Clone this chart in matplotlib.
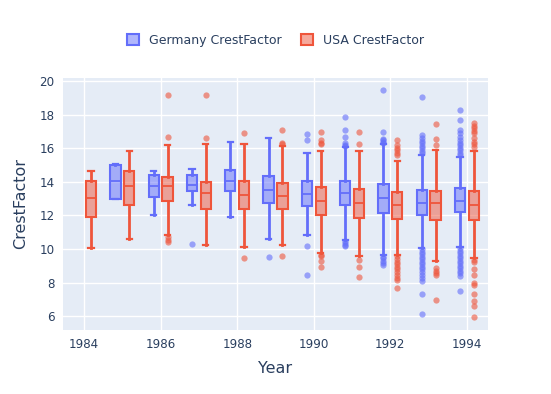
import numpy as np
import matplotlib.pyplot as plt
from matplotlib.patches import Patch
from matplotlib.colors import to_rgba

plt.rcParams['font.family'] = ['DejaVu Sans']

# Box summary values (CrestFactor per year)
ger_years = [1985, 1986, 1987, 1988, 1989, 1990, 1991, 1992, 1993, 1994]
ger_lo  = [13.0, 12.05, 12.64, 11.93, 10.62, 10.81, 10.56, 9.66, 10.06, 10.1]
ger_q1  = [13.0, 13.08, 13.48, 13.44, 12.74, 12.54, 12.6, 12.15, 12.0, 12.19]
ger_med = [14.07, 13.78, 13.84, 14.04, 13.54, 13.3, 13.34, 13.04, 12.74, 12.84]
ger_q3  = [15.0, 14.43, 14.39, 14.69, 14.35, 14.07, 14.07, 13.88, 13.54, 13.64]
ger_hi  = [15.07, 14.63, 14.77, 16.36, 16.64, 15.73, 16.06, 16.28, 15.59, 15.5]
ger_out = [
    [],
    [],
    [10.32],
    [],
    [9.52],
    [16.88, 16.5, 10.16, 8.43],
    [17.87, 17.12, 16.66, 16.3, 16.2, 16.12, 10.45, 10.35, 10.25, 10.16],
    [19.46, 16.98, 16.56, 16.48, 16.4, 16.33, 9.55, 9.45, 9.3, 9.15, 9.06],
    [19.05, 16.82, 16.6, 16.45, 16.3, 16.15, 16.0, 15.85, 15.7,
     10.0, 9.85, 9.7, 9.55, 9.4, 9.25, 9.1, 8.95, 8.8, 8.6, 8.45, 8.25, 8.1, 7.34, 6.14],
    [18.27, 17.67, 17.1, 16.9, 16.7, 16.5, 16.35, 16.2, 16.05, 15.9, 15.75, 15.6,
     10.05, 9.9, 9.75, 9.6, 9.45, 9.3, 9.15, 9.0, 8.85, 8.7, 8.55, 8.4, 7.5],
]

usa_years = [1984, 1985, 1986, 1987, 1988, 1989, 1990, 1991, 1992, 1993, 1994]
usa_lo  = [10.04, 10.62, 10.85, 10.26, 10.14, 10.24, 9.74, 9.6, 9.66, 9.26, 9.46]
usa_q1  = [11.89, 12.65, 12.84, 12.4, 12.4, 12.38, 12.05, 11.85, 11.81, 11.71, 11.75]
usa_med = [13.04, 13.73, 13.74, 13.34, 13.24, 13.18, 12.84, 12.74, 12.64, 12.74, 12.64]
usa_q3  = [14.04, 14.65, 14.29, 13.99, 14.04, 13.94, 13.68, 13.6, 13.4, 13.44, 13.44]
usa_hi  = [14.63, 15.86, 16.18, 16.26, 16.24, 16.12, 15.84, 15.84, 15.27, 15.9, 15.83]
usa_out = [
    [],
    [],
    [19.16, 16.66, 10.7, 10.55, 10.4],
    [19.2, 16.62],
    [16.94, 9.48],
    [17.08, 16.32, 16.26, 9.58],
    [16.98, 16.5, 16.35, 16.26, 9.65, 9.56, 9.26, 8.9],
    [16.98, 16.28, 9.34, 8.9, 8.33],
    [16.52, 16.18, 16.05, 15.9, 15.75, 15.63,
     9.56, 9.4, 9.25, 9.1, 8.95, 8.8, 8.6, 8.45, 8.3, 8.15, 7.7],
    [17.46, 16.56, 16.18, 8.86, 8.7, 8.55, 8.46, 6.96],
    [17.5, 17.35, 17.2, 17.05, 16.9, 16.6, 16.4, 16.25, 16.1,
     9.36, 9.2, 8.8, 8.47, 7.97, 7.85, 7.33, 6.88, 6.58, 5.92],
]

blue = '#636efa'
red = '#EF553B'
txt = '#2a3f5f'

fig = plt.figure(figsize=(5.51, 3.94), dpi=100)
ax = fig.add_axes([63 / 551, 1 - 330 / 394, 425 / 551, 252 / 394])
ax.set_facecolor('#e5ecf6')


def draw(years, lo, q1, med, q3, hi, out, color, offset):
    stats = []
    for i in range(len(years)):
        stats.append(dict(whislo=lo[i], q1=q1[i], med=med[i], q3=q3[i],
                          whishi=hi[i], fliers=out[i]))
    pos = np.array(years) + offset
    ax.bxp(stats, positions=pos, widths=0.27, capwidths=0.14,
           patch_artist=True, showfliers=True,
           boxprops=dict(facecolor=to_rgba(color, 0.5), edgecolor=color, lw=1.5),
           medianprops=dict(color=color, lw=1.3),
           whiskerprops=dict(color=color, lw=2.0),
           capprops=dict(color=color, lw=1.6),
           flierprops=dict(marker='o', markersize=4.5, markerfacecolor=color,
                           markeredgecolor='none', alpha=0.6),
           zorder=3)


draw(ger_years, ger_lo, ger_q1, ger_med, ger_q3, ger_hi, ger_out, blue, -0.18)
draw(usa_years, usa_lo, usa_q1, usa_med, usa_q3, usa_hi, usa_out, red, 0.18)

ax.set_xlim(1983.45, 1994.55)
ax.set_ylim(5.17, 20.2)
ax.set_xticks(range(1984, 1995, 2))
ax.set_xticklabels([str(y) for y in range(1984, 1995, 2)])
ax.set_yticks(range(6, 21, 2))
ax.grid(True, color='white', lw=1)
ax.set_axisbelow(True)
for s in ax.spines.values():
    s.set_visible(False)
ax.tick_params(length=0, labelsize=8.6, labelcolor=txt, pad=6)
ax.set_xlabel('Year', fontsize=11.5, color=txt, labelpad=7)
ax.set_ylabel('CrestFactor', fontsize=11.5, color=txt, labelpad=8)

handles = [Patch(facecolor=to_rgba(blue, 0.5), edgecolor=blue, lw=1.5, label='Germany CrestFactor'),
           Patch(facecolor=to_rgba(red, 0.5), edgecolor=red, lw=1.5, label='USA CrestFactor')]
leg = fig.legend(handles=handles, loc='center', bbox_to_anchor=(0.5, 0.898), ncol=2,
                 frameon=False, fontsize=9, handlelength=0.9, handleheight=0.9,
                 handletextpad=0.8, columnspacing=1.6)
for t in leg.get_texts():
    t.set_color(txt)

fig.savefig('out.png', dpi=100)
